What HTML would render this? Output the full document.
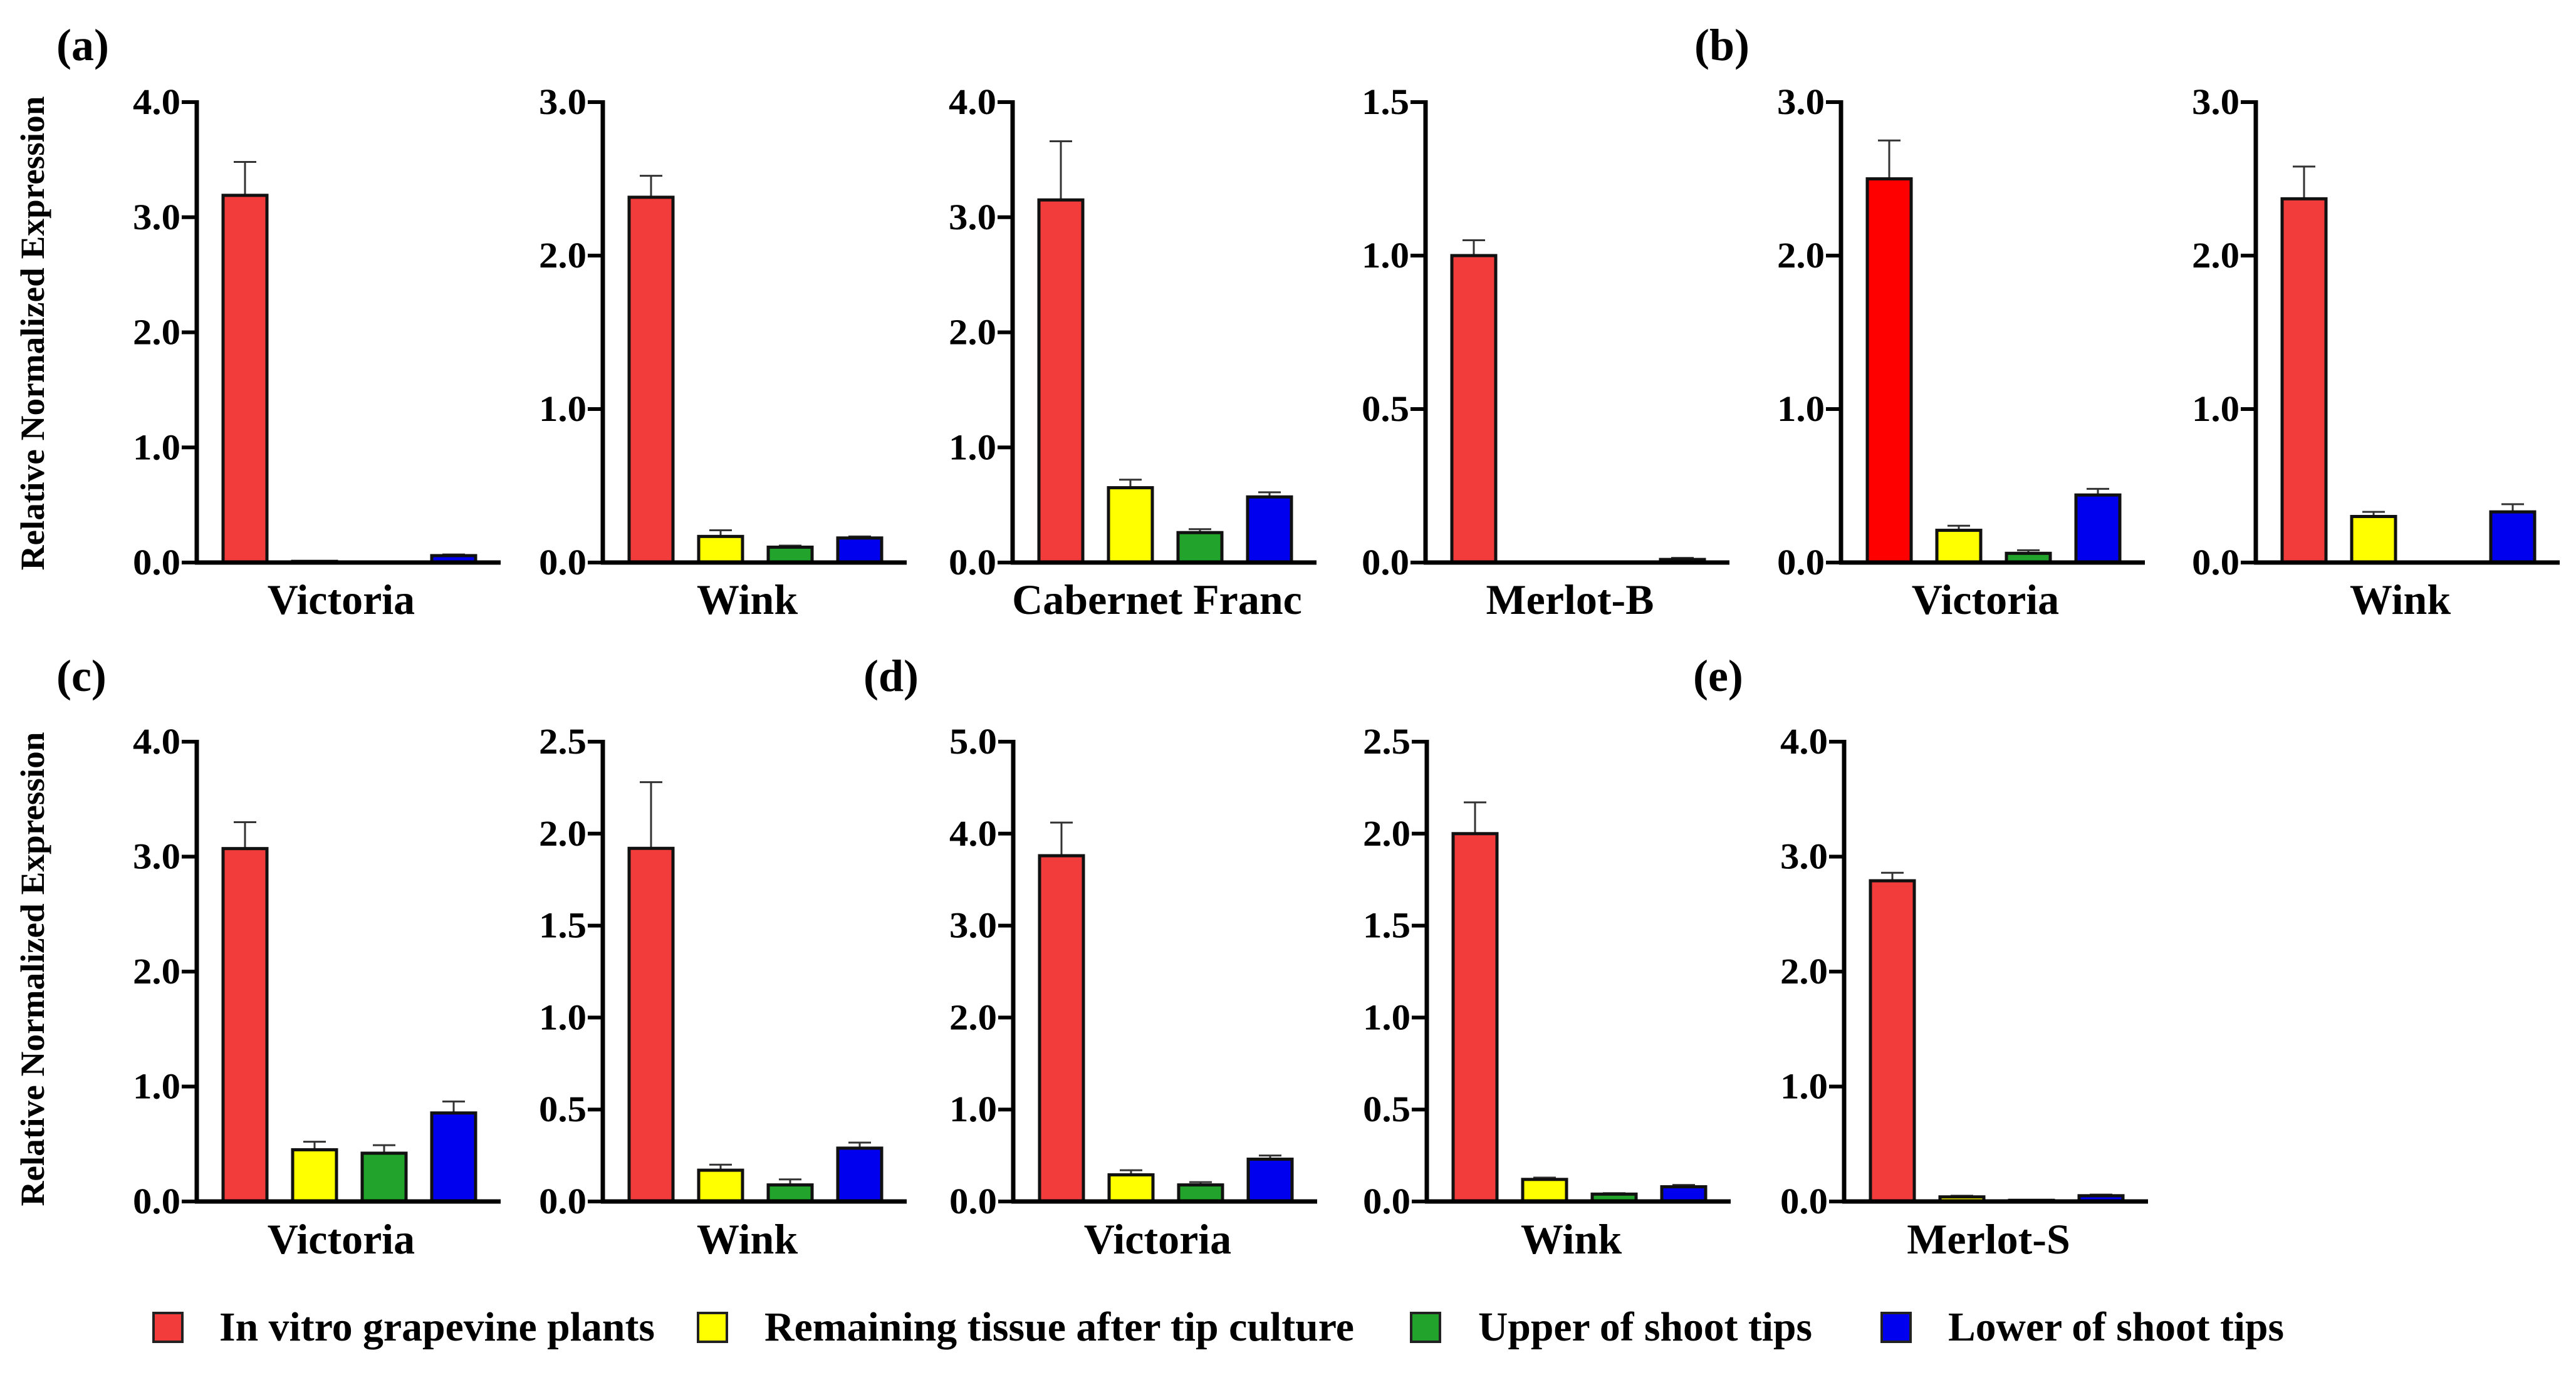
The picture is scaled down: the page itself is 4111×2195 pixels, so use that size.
<!DOCTYPE html>
<html><head><meta charset="utf-8"><style>
html,body{margin:0;padding:0;background:#fff;}
svg{display:block;font-family:"Liberation Serif",serif;font-weight:bold;}
</style></head><body>
<svg id="chart" width="4111" height="2195" viewBox="0 0 4111 2195" xmlns="http://www.w3.org/2000/svg">
<rect width="4111" height="2195" fill="#fff"/>
<text x="90" y="96" font-size="72">(a)</text>
<text x="2704" y="96" font-size="72">(b)</text>
<text x="90" y="1103" font-size="72">(c)</text>
<text x="1378" y="1103" font-size="72">(d)</text>
<text x="2702" y="1103" font-size="72">(e)</text>
<text transform="translate(70,532) rotate(-90)" text-anchor="middle" font-size="54" textLength="757" lengthAdjust="spacingAndGlyphs">Relative Normalized Expression</text>
<text transform="translate(70,1547) rotate(-90)" text-anchor="middle" font-size="54" textLength="757" lengthAdjust="spacingAndGlyphs">Relative Normalized Expression</text>
<g id="legend">
<rect x="245" y="2096" width="46" height="46" fill="#f23c3c" stroke="#222" stroke-width="4"/>
<text x="350" y="2140" font-size="66" textLength="695" lengthAdjust="spacingAndGlyphs">In vitro grapevine plants</text>
<rect x="1114" y="2096" width="46" height="46" fill="#ffff00" stroke="#222" stroke-width="4"/>
<text x="1220" y="2140" font-size="66" textLength="941" lengthAdjust="spacingAndGlyphs">Remaining tissue after tip culture</text>
<rect x="2252" y="2096" width="46" height="46" fill="#22a32c" stroke="#222" stroke-width="4"/>
<text x="2359" y="2140" font-size="66" textLength="533" lengthAdjust="spacingAndGlyphs">Upper of shoot tips</text>
<rect x="3003" y="2096" width="46" height="46" fill="#0000ee" stroke="#222" stroke-width="4"/>
<text x="3109" y="2140" font-size="66" textLength="536" lengthAdjust="spacingAndGlyphs">Lower of shoot tips</text>
</g>
</svg>
<script>
const panelNames = ["a-victoria","a-wink","a-cabernet","a-merlot-b","b-victoria","b-wink","c-victoria","c-wink","d-victoria","d-wink","e-merlot-s"];
const categories = ["Victoria","Wink","Cabernet Franc","Merlot-B","Victoria","Wink","Victoria","Wink","Victoria","Wink","Merlot-S"];
const yMax = [4,3,4,1.5,3,3,4,2.5,5,2.5,4];
const yStep = [1,1,1,0.5,1,1,1,0.5,1,0.5,1];
const inVitro = [3.19,2.38,3.15,1.0,2.5,2.37,3.07,1.92,3.76,2.0,2.79];
const remaining = [0.01,0.17,0.65,0,0.21,0.30,0.45,0.17,0.29,0.12,0.04];
const upper = [0,0.10,0.26,0,0.06,0,0.42,0.09,0.18,0.04,0.01];
const lower = [0.06,0.16,0.57,0.01,0.44,0.33,0.77,0.29,0.46,0.08,0.05];
const inVitroErr = [0.29,0.14,0.51,0.05,0.25,0.21,0.23,0.36,0.36,0.17,0.07];
const remainingErr = [0,0.04,0.07,0,0.03,0.03,0.07,0.03,0.05,0.01,0.01];
const upperErr = [0,0.01,0.03,0,0.02,0,0.07,0.03,0.03,0.005,0];
const lowerErr = [0.01,0.01,0.04,0.005,0.04,0.05,0.10,0.03,0.04,0.01,0.01];

const axisX = [314,962,1616,2275,2938,3600,314,962,1617,2277,2943];
const rowOf = [0,0,0,0,0,0,1,1,1,1,1];
const rows = [{top:163,base:898,label:980},{top:1184,base:1918,label:2001}];
const series = [inVitro,remaining,upper,lower];
const errs = [inVitroErr,remainingErr,upperErr,lowerErr];
const seriesNames = ["in-vitro","remaining","upper","lower"];
const colors = ["#f23c3c","#ffff00","#22a32c","#0000ee"];
const NS = "http://www.w3.org/2000/svg";
const svg = document.getElementById("chart");
function mk(tag, attrs, parent){const e=document.createElementNS(NS,tag);for(const k in attrs)e.setAttribute(k,attrs[k]);(parent||svg).appendChild(e);return e;}

for (let p=0;p<panelNames.length;p++){
  const r = rows[rowOf[p]];
  const x0 = axisX[p], L = 485;
  const y = v => r.base - v/yMax[p]*(r.base-r.top);
  const g = mk("g",{});
  
  
  for (let s=0;s<4;s++){
    const v = series[s][p];
    const bx = x0+42+s*111;
    let fill = colors[s];
    if (p===4 && s===0) fill = "#ff0000";
    if (v>0){
      const e = errs[s][p];
      if (e>0){
        const eb = mk("g",{},g);
        
        
        mk("line",{x1:bx+35,x2:bx+35,y1:y(v),y2:y(v+e),stroke:"#333","stroke-width":3},eb);
        mk("line",{x1:bx+17,x2:bx+53,y1:y(v+e),y2:y(v+e),stroke:"#333","stroke-width":3},eb);
      }
      const h = r.base - y(v);
      const b = mk("rect",{x:bx,y:y(v),width:70,height:Math.max(h,1),fill:fill,stroke:"#111","stroke-width":5},g);
      
      
    }
  }
  const ya = mk("line",{x1:x0,x2:x0,y1:r.top-3,y2:r.base+3,stroke:"#000","stroke-width":7},g);
  
  
  const xa = mk("line",{x1:x0-3,x2:x0+L,y1:r.base,y2:r.base,stroke:"#000","stroke-width":7},g);
  
  
  const n = Math.round(yMax[p]/yStep[p]);
  for (let i=0;i<=n;i++){
    const v = i*yStep[p], ty = y(v);
    mk("line",{x1:x0-24,x2:x0,y1:ty,y2:ty,stroke:"#000","stroke-width":6},g);
    const t = mk("text",{x:x0-26,y:ty+19,"text-anchor":"end","font-size":58,textLength:76,lengthAdjust:"spacingAndGlyphs"},g);
    
    
    t.textContent = v.toFixed(1);
  }
  const c = mk("text",{x:x0+L/2-12,y:r.label,"text-anchor":"middle","font-size":68},g);
  
  
  c.textContent = categories[p];
}
</script>
</body></html>
